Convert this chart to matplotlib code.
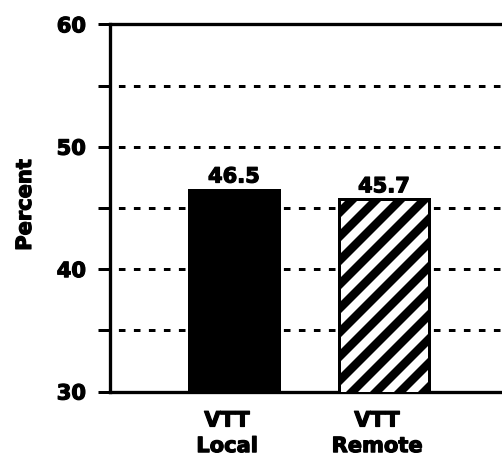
import numpy as np
import matplotlib
matplotlib.use('Agg')
import matplotlib.pyplot as plt
import matplotlib.patheffects as pe

categories = ['VTT\nLocal', 'VTT\nRemote']
values = [46.5, 45.7]
value_labels = ['46.5', '45.7']
yticks = [30, 35, 40, 45, 50, 55, 60]
ytick_labels = ['30', '', '40', '', '50', '', '60']
grid_levels = [35, 40, 45, 50, 55]

# dpi picked so the '//' hatch spacing matches the scan
DPI = 144
def px(v):
  return v * 72.0 / DPI

plt.rcParams['font.family'] = ['DejaVu Sans']
plt.rcParams['font.weight'] = 'bold'
plt.rcParams['hatch.linewidth'] = px(8.5)
plt.rcParams['hatch.color'] = 'black'

fs = px(21)
heavy = [pe.withStroke(linewidth=px(1.2), foreground='black')]

fig = plt.figure(figsize=(502/DPI, 462/DPI), dpi=DPI, facecolor='white')
ax = fig.add_axes([110/502, (462-391.5)/462, (502-110)/502, (391.5-24.3)/462])

x = np.arange(len(categories))
for lvl in grid_levels:
  ax.axhline(lvl, color='black', lw=px(3), linestyle=(2.2, (2.2, 2.8)), zorder=1)

ax.bar(x[0], values[0], width=0.6, bottom=0, color='black', edgecolor='black', lw=px(3), zorder=3)
ax.bar(x[1], values[1], width=0.6, bottom=0, color='white', edgecolor='black', lw=px(3), hatch='//', zorder=3)

for xi, v, lab in zip(x, values, value_labels):
  ax.annotate(lab, xy=(xi, v), xytext=(0, px(3)), textcoords='offset points',
              ha='center', va='bottom', fontsize=fs, fontweight='bold', path_effects=heavy)

for xi, lab in zip(x, categories):
  ax.annotate(lab, xy=(xi, 0), xycoords=ax.get_xaxis_transform(),
              xytext=(px(-7), px(-19)), textcoords='offset points',
              ha='center', va='top', fontsize=fs, fontweight='bold',
              multialignment='center', linespacing=1.35, path_effects=heavy)

ax.set_xlim(-124/150, 1 + 118/150)
ax.set_ylim(30, 60)
ax.set_xticks([])
ax.set_yticks(yticks)
ax.set_yticklabels(ytick_labels, fontsize=fs, fontweight='bold')
for t in ax.get_yticklabels():
  t.set_path_effects(heavy)
ax.tick_params(axis='y', direction='out', length=px(12), width=px(3), pad=px(12))

for s in ['left', 'top', 'bottom']:
  ax.spines[s].set_linewidth(px(3.3))
ax.spines['right'].set_visible(False)
ax.spines['left'].set_zorder(4)

fig.text(25/502, 1 - 205/462, 'Percent', rotation=90, ha='center', va='center',
         fontsize=fs, fontweight='bold', path_effects=heavy)

fig.savefig('out.png', dpi=DPI, facecolor='white')
